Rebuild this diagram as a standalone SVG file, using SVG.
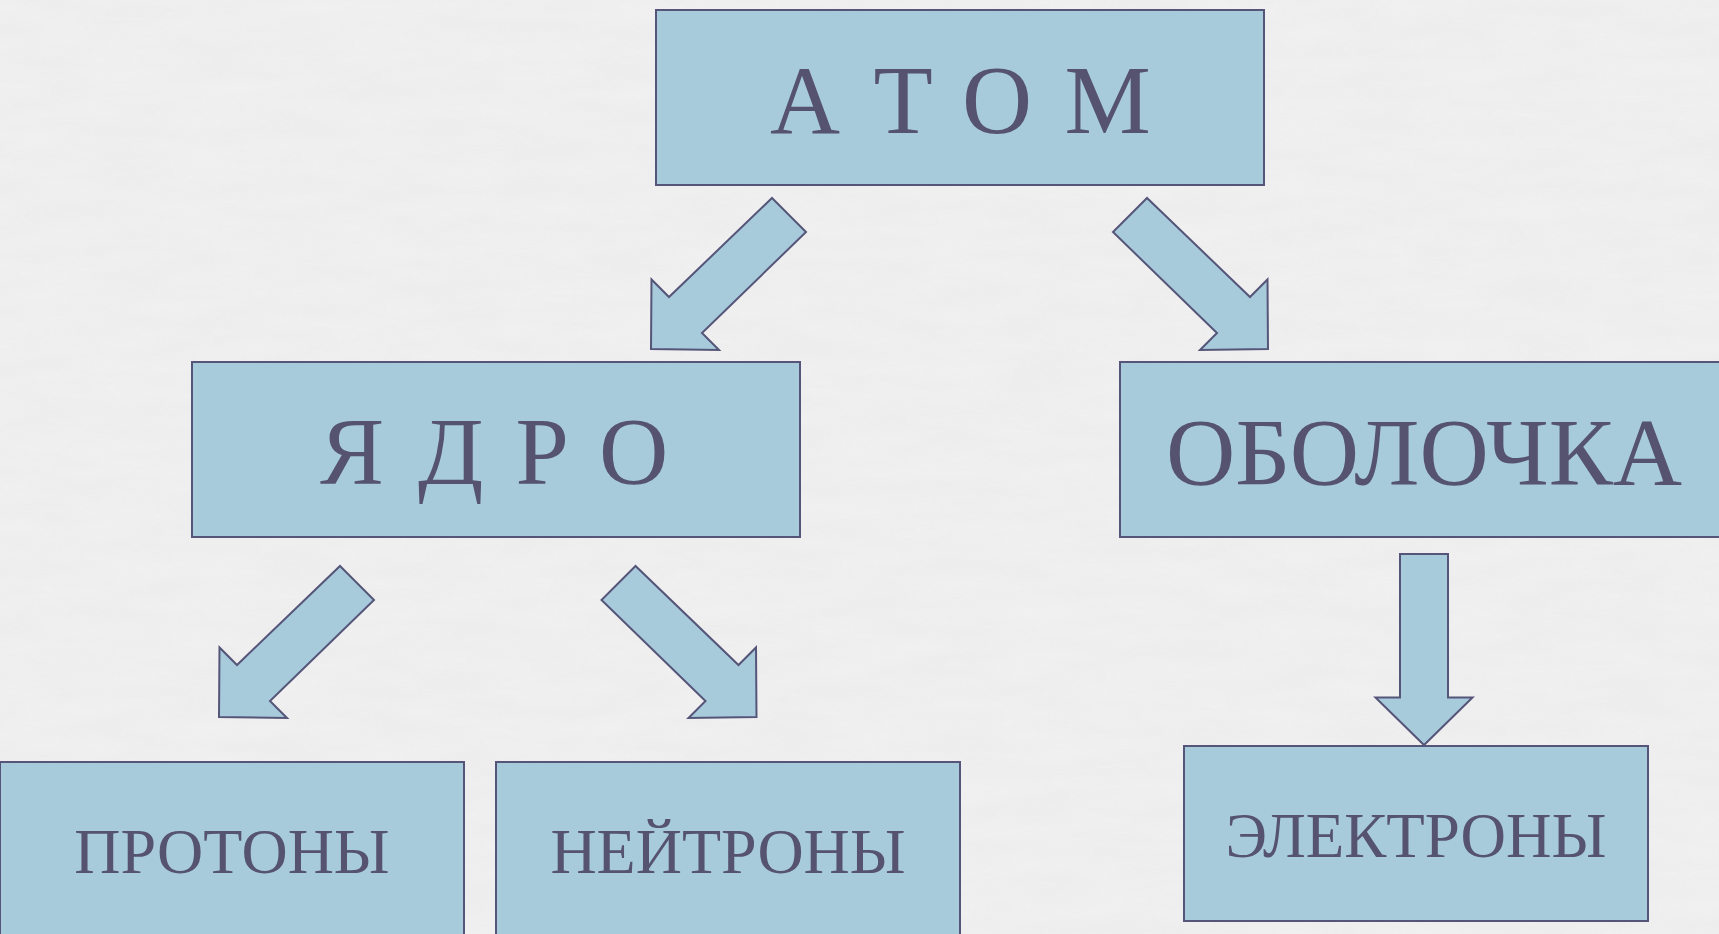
<svg xmlns="http://www.w3.org/2000/svg" width="1719" height="934" viewBox="0 0 1719 934">
  <defs>
    <style>
      .box { fill: #a7cbda; stroke: #55557a; stroke-width: 2; }
      .arrow { fill: #a7cbda; stroke: #55557a; stroke-width: 2; stroke-linejoin: miter; }
      .label { font-family: "Liberation Serif", "Times New Roman", serif; fill: #55536f; }
    </style>
    <!-- diagonal block arrow, tip at origin, pointing down-left -->
    <path id="diag" d="M0,0 L34,34 L-70,135 L-53,152 L-121,151 L-120.5,81.5 L-103,99 Z"/>
    <filter id="grain" x="0" y="0" width="100%" height="100%">
      <feTurbulence type="fractalNoise" baseFrequency="0.012 0.05" numOctaves="3" seed="7"/>
      <feColorMatrix type="matrix" values="0 0 0 0 0.55  0 0 0 0 0.55  0 0 0 0 0.55  0 0 0 0.18 0"/>
    </filter>
  </defs>

  <!-- paper background -->
  <rect x="0" y="0" width="1719" height="934" fill="#f1f1f1"/>
  <rect x="0" y="0" width="1719" height="934" filter="url(#grain)" opacity="0.6"/>

  <!-- connectors -->
  <g id="connectors">
    <use href="#diag" class="arrow" transform="translate(772,198)"/>
    <use href="#diag" class="arrow" transform="translate(1147,198) scale(-1,1)"/>
    <use href="#diag" class="arrow" transform="translate(340,566)"/>
    <use href="#diag" class="arrow" transform="translate(635.5,566) scale(-1,1)"/>
    <path class="arrow" d="M1400,554 L1448,554 L1448,697.5 L1472.5,697.5 L1424,745 L1375.5,697.5 L1400,697.5 Z"/>
  </g>

  <g id="atom">
    <rect class="box" x="656" y="10" width="608" height="175"/>
    <text class="label" font-size="97" x="770 840 873.5 935 962 1034 1064.5" y="133">А Т О М</text>
  </g>

  <g id="nucleus">
    <rect class="box" x="192" y="362" width="608" height="175"/>
    <text class="label" font-size="96" x="320 380 418 480 515.5 570 599" y="484">Я Д Р О</text>
  </g>

  <g id="shell">
    <rect class="box" x="1120" y="362" width="608" height="175"/>
    <text class="label" font-size="96" x="1424" y="485" text-anchor="middle">ОБОЛОЧКА</text>
  </g>

  <g id="protons">
    <rect class="box" x="0" y="762" width="464" height="175"/>
    <text class="label" font-size="64" x="232" y="873" text-anchor="middle">ПРОТОНЫ</text>
  </g>

  <g id="neutrons">
    <rect class="box" x="496" y="762" width="464" height="175"/>
    <text class="label" font-size="64" x="728" y="873" text-anchor="middle">НЕЙТРОНЫ</text>
  </g>

  <g id="electrons">
    <rect class="box" x="1184" y="746" width="464" height="175"/>
    <text class="label" font-size="63" x="1416" y="857" text-anchor="middle">ЭЛЕКТРОНЫ</text>
  </g>
</svg>
